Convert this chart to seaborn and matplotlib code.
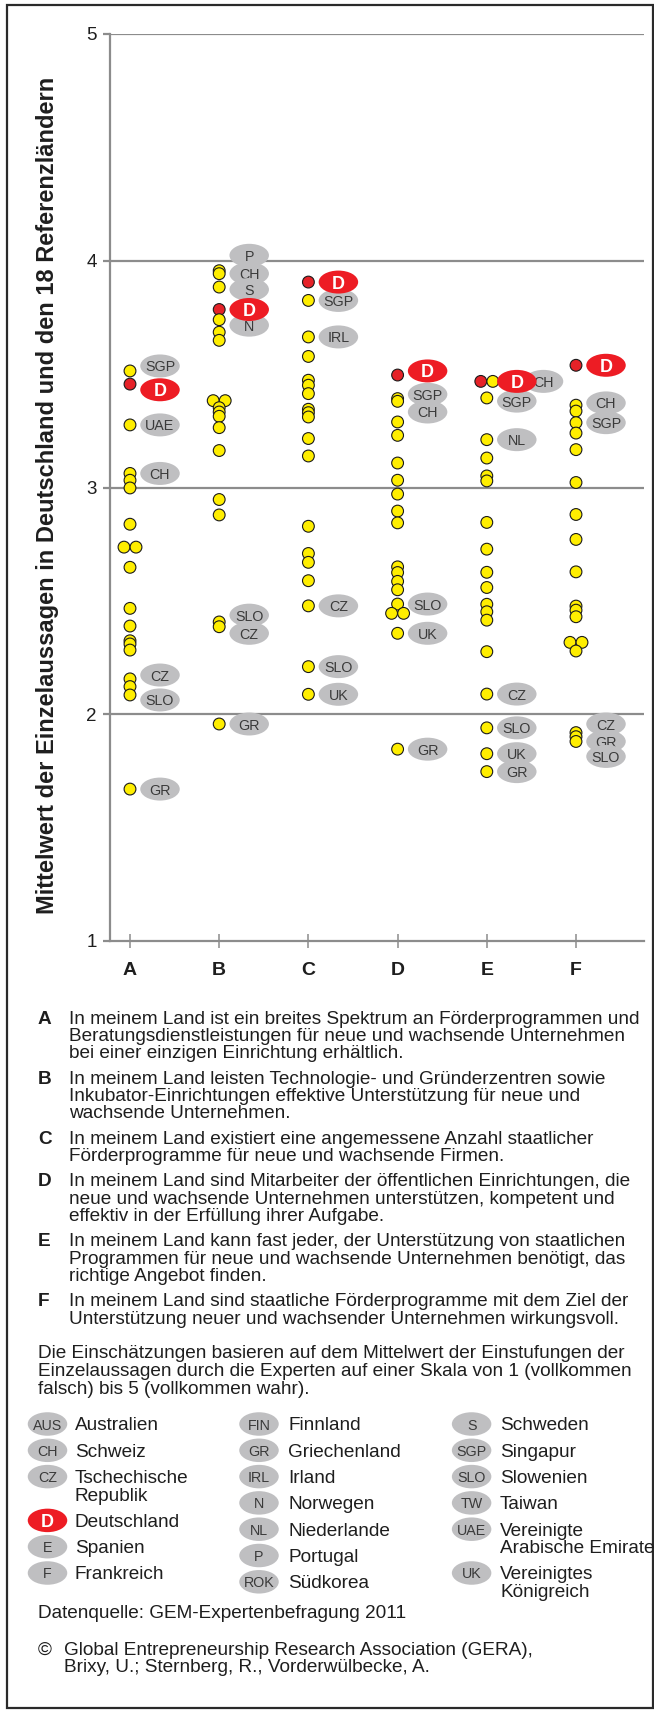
import matplotlib
matplotlib.use('Agg')
import matplotlib.pyplot as plt
from matplotlib.patches import Ellipse, Rectangle
from matplotlib import font_manager as fm
import numpy as np
import pandas as pd
import seaborn as sns

# ---------------- data ----------------
statements = ['A', 'B', 'C', 'D', 'E', 'F']

values_A = [3.514, 3.456, 3.276, 3.062, 3.032, 2.998, 2.838, 2.737, 2.737, 2.648,
            2.467, 2.389, 2.324, 2.310, 2.283, 2.156, 2.122, 2.085, 1.670]
codes_A = ['SGP', 'D', 'UAE', 'CH', '', '', '', '', '', '', '', '', '', '', '', 'CZ', '', 'SLO', 'GR']

values_B = [3.956, 3.943, 3.884, 3.785, 3.740, 3.685, 3.649, 3.383, 3.383, 3.352,
            3.333, 3.314, 3.264, 3.163, 2.947, 2.879, 2.407, 2.386, 1.957]
codes_B = ['P', 'CH', 'S', 'D', 'N', '', '', '', '', '', '', '', '', '', '', '', 'SLO', 'CZ', 'GR']

values_C = [3.906, 3.825, 3.664, 3.578, 3.473, 3.451, 3.414, 3.345, 3.330, 3.311,
            3.216, 3.139, 2.829, 2.709, 2.670, 2.589, 2.478, 2.210, 2.088]
codes_C = ['D', 'SGP', 'IRL', '', '', '', '', '', '', '', '', '', '', '', '', '', 'CZ', 'SLO', 'UK']

values_D = [3.496, 3.392, 3.380, 3.289, 3.230, 3.108, 3.032, 2.971, 2.896, 2.844,
            2.650, 2.625, 2.586, 2.549, 2.486, 2.445, 2.445, 2.357, 1.846]
codes_D = ['D', 'SGP', 'CH', '', '', '', '', '', '', '', '', '', '', '', 'SLO', '', '', 'UK', 'GR']

values_E = [3.468, 3.468, 3.395, 3.211, 3.130, 3.051, 3.029, 2.846, 2.728, 2.626,
            2.559, 2.485, 2.452, 2.415, 2.276, 2.089, 1.940, 1.826, 1.747]
codes_E = ['D', 'CH', 'SGP', 'NL', '', '', '', '', '', '', '', '', '', '', '', 'CZ', 'SLO', 'UK', 'GR']

values_F = [3.539, 3.363, 3.337, 3.286, 3.240, 3.167, 3.022, 2.881, 2.771, 2.628,
            2.477, 2.459, 2.430, 2.317, 2.317, 2.279, 1.919, 1.901, 1.880]
codes_F = ['D', 'CH', '', 'SGP', '', '', '', '', '', '', '', '', '', '', '', '', 'CZ', 'GR', 'SLO']

y_ticks = [1, 2, 3, 4, 5]

ylabel = "Mittelwert der Einzelaussagen in Deutschland und den 18 Referenzländern"

statement_text = {
    'A': ["In meinem Land ist ein breites Spektrum an Förderprogrammen und",
          "Beratungsdienstleistungen für neue und wachsende Unternehmen",
          "bei einer einzigen Einrichtung erhältlich."],
    'B': ["In meinem Land leisten Technologie- und Gründerzentren sowie",
          "Inkubator-Einrichtungen effektive Unterstützung für neue und",
          "wachsende Unternehmen."],
    'C': ["In meinem Land existiert eine angemessene Anzahl staatlicher",
          "Förderprogramme für neue und wachsende Firmen."],
    'D': ["In meinem Land sind Mitarbeiter der öffentlichen Einrichtungen, die",
          "neue und wachsende Unternehmen unterstützen, kompetent und",
          "effektiv in der Erfüllung ihrer Aufgabe."],
    'E': ["In meinem Land kann fast jeder, der Unterstützung von staatlichen",
          "Programmen für neue und wachsende Unternehmen benötigt, das",
          "richtige Angebot finden."],
    'F': ["In meinem Land sind staatliche Förderprogramme mit dem Ziel der",
          "Unterstützung neuer und wachsender Unternehmen wirkungsvoll."],
}
note_lines = ["Die Einschätzungen basieren auf dem Mittelwert der Einstufungen der",
              "Einzelaussagen durch die Experten auf einer Skala von 1 (vollkommen",
              "falsch) bis 5 (vollkommen wahr)."]
legend_col1 = [('AUS', 'Australien'), ('CH', 'Schweiz'), ('CZ', 'Tschechische\nRepublik'),
               ('D', 'Deutschland'), ('E', 'Spanien'), ('F', 'Frankreich')]
legend_col2 = [('FIN', 'Finnland'), ('GR', 'Griechenland'), ('IRL', 'Irland'), ('N', 'Norwegen'),
               ('NL', 'Niederlande'), ('P', 'Portugal'), ('ROK', 'Südkorea')]
legend_col3 = [('S', 'Schweden'), ('SGP', 'Singapur'), ('SLO', 'Slowenien'), ('TW', 'Taiwan'),
               ('UAE', 'Vereinigte\nArabische Emirate'), ('UK', 'Vereinigtes\nKönigreich')]
source_text = "Datenquelle: GEM-Expertenbefragung 2011"
copyright_lines = ["Global Entrepreneurship Research Association (GERA),",
                   "Brixy, U.; Sternberg, R., Vorderwülbecke, A."]

# ---------------- layout / style ----------------
W, H = 654, 1711
YELLOW = '#FFEE00'
RED = '#E52228'
BADGE_RED = '#ED1C24'
GRAY_BADGE = '#BFBFC1'
AXIS_GRAY = '#8C8C8C'
TEXT_DARK = '#1E1E1E'
BADGE_TEXT = '#3A3A3A'

sns.set_theme(style='white')
plt.rcParams['font.family'] = ['Liberation Sans', 'DejaVu Sans']
names = {f.name for f in fm.fontManager.ttflist}
NARROW = 'Liberation Sans Narrow' if 'Liberation Sans Narrow' in names else 'Liberation Sans'
badge_fs = 11.5 if NARROW != 'Liberation Sans' else 10.3

label_nudge = {('A', 'SGP'): 0.022, ('A', 'D'): -0.025, ('A', 'CZ'): 0.017, ('A', 'SLO'): -0.022,
               ('B', 'P'): 0.068, ('B', 'S'): -0.011, ('B', 'N'): -0.024, ('B', 'SLO'): 0.030,
               ('B', 'CZ'): -0.029, ('D', 'D'): 0.018, ('D', 'SGP'): 0.019, ('D', 'CH'): -0.047,
               ('E', 'SGP'): -0.014, ('F', 'CH'): 0.010, ('F', 'CZ'): 0.038, ('F', 'GR'): -0.021,
               ('F', 'SLO'): -0.066}
label_dx_px = {('E', 'CH'): 56.7}

# axes geometry in pixels
AX_L, AX_R, AX_T, AX_B = 110, 644, 34, 941
CAT0_PX, CAT_STEP_PX = 130, 89.2
x_left = (AX_L - CAT0_PX) / CAT_STEP_PX
x_right = (AX_R - CAT0_PX) / CAT_STEP_PX
px_per_y = (AX_B - AX_T) / 4.0

fig = plt.figure(figsize=(W / 100, H / 100), dpi=100)
ax = fig.add_axes([AX_L / W, 1 - AX_B / H, (AX_R - AX_L) / W, (AX_B - AX_T) / H])

# ---------------- build data frame ----------------
all_vals = [values_A, values_B, values_C, values_D, values_E, values_F]
all_codes = [codes_A, codes_B, codes_C, codes_D, codes_E, codes_F]
rows = []
for i, (st, vals, codes) in enumerate(zip(statements, all_vals, all_codes)):
    for v, c in zip(vals, codes):
        rows.append({'stmt': st, 'idx': i, 'value': v, 'code': c,
                     'kind': 'DE' if c == 'D' else 'other'})
df = pd.DataFrame(rows)
df['order'] = np.arange(len(df))
# horizontal dodge for identical values
dodge_units = 6.0 / CAT_STEP_PX
df['grp_n'] = df.groupby(['stmt', 'value'])['value'].transform('size')
df['grp_k'] = df.groupby(['stmt', 'value']).cumcount()
df['xpos'] = df['idx'] + (df['grp_k'] - (df['grp_n'] - 1) / 2.0) * 2 * dodge_units
df = df.sort_values(['value', 'order'], ascending=[False, True], kind='stable')

sns.scatterplot(data=df, x='xpos', y='value', hue='kind',
                palette={'DE': RED, 'other': YELLOW}, s=72,
                edgecolor='#1A1A1A', linewidth=0.8, legend=False, zorder=4, ax=ax)

# ---------------- country badges in chart ----------------
ew = 39.5 / CAT_STEP_PX
eh = 23.0 / px_per_y
lab = df[df['code'] != ''].copy()
lab['ly'] = [v + label_nudge.get((s, c), 0.0) for s, c, v in zip(lab['stmt'], lab['code'], lab['value'])]
lab['lx'] = [i + label_dx_px.get((s, c), 30.0) / CAT_STEP_PX for s, c, i in zip(lab['stmt'], lab['code'], lab['idx'])]
lab['isD'] = lab['code'] == 'D'
lab = lab.sort_values(['isD', 'ly'], ascending=[True, False])
z = 5
for _, r in lab.iterrows():
    if r['isD']:
        ax.add_patch(Ellipse((r['lx'], r['ly']), ew, eh, facecolor=BADGE_RED, edgecolor='none', zorder=z))
        ax.text(r['lx'], r['ly'], 'D', color='white', fontweight='bold', fontsize=13,
                ha='center', va='center_baseline', zorder=z + 0.5, family=[NARROW, 'Liberation Sans'])
    else:
        ax.add_patch(Ellipse((r['lx'], r['ly']), ew, eh, facecolor=GRAY_BADGE, edgecolor='none', zorder=z))
        ax.text(r['lx'], r['ly'], r['code'], color=BADGE_TEXT, fontsize=badge_fs,
                ha='center', va='center_baseline', zorder=z + 0.5, family=[NARROW, 'Liberation Sans'])
    z += 1

# ---------------- axes styling ----------------
ax.set_xlim(x_left, x_right)
ax.set_ylim(1, 5)
ax.set_xticks(range(len(statements)))
ax.set_xticklabels(statements, fontweight='bold', fontsize=14, color=TEXT_DARK)
ax.set_yticks(y_ticks)
ax.set_yticklabels([str(t) for t in y_ticks], fontsize=13.5, color=TEXT_DARK)
ax.set_xlabel('')
ax.set_ylabel('')
for side in ['top', 'right']:
    ax.spines[side].set_visible(False)
for side in ['left', 'bottom']:
    ax.spines[side].set_color(AXIS_GRAY)
    ax.spines[side].set_linewidth(1.6)
ax.grid(False)
for t in y_ticks[1:]:
    ax.axhline(t, color=AXIS_GRAY, lw=1.6, zorder=1)
ax.tick_params(axis='y', which='major', direction='out', length=5, width=1.6,
               color=AXIS_GRAY, pad=4.5, left=True)
ax.tick_params(axis='x', which='major', direction='inout', length=10, width=1.1,
               color=AXIS_GRAY, pad=10, bottom=True)
ax.set_facecolor('none')

# ---------------- overlay for texts ----------------
ov = fig.add_axes([0, 0, 1, 1], zorder=-1)
ov.set_xlim(0, W)
ov.set_ylim(H, 0)
ov.axis('off')

renderer = fig.canvas.get_renderer()


def fit_size(text, target_px, weight='normal', base=10.0):
    t = fig.text(0, 0, text, fontsize=base, fontweight=weight)
    w = t.get_window_extent(renderer=renderer).width
    t.remove()
    return base * target_px / w


body_fs = fit_size(statement_text['A'][0], 576)
ylab_fs = fit_size(ylabel, 838, weight='bold')

fig.text(48 / W, 1 - 495 / H, ylabel, rotation=90, ha='center', va='center',
         fontweight='bold', fontsize=ylab_fs, color=TEXT_DARK)

LINE = 17.5
GAP = 7.5
y = 1017
for st in statements:
    ov.text(38, y, st, fontweight='bold', fontsize=body_fs, ha='left', va='center_baseline', color=TEXT_DARK)
    for ln in statement_text[st]:
        ov.text(69, y, ln, fontsize=body_fs, ha='left', va='center_baseline', color=TEXT_DARK)
        y += LINE
    y += GAP

y = 1352
for ln in note_lines:
    ov.text(38, y, ln, fontsize=body_fs, ha='left', va='center_baseline', color=TEXT_DARK)
    y += LINE

ROW = 26.3
for col, bx, tx in [(legend_col1, 47.5, 75), (legend_col2, 259, 288), (legend_col3, 471.6, 500)]:
    y = 1424
    for code, name in col:
        fc = BADGE_RED if code == 'D' else GRAY_BADGE
        ov.add_patch(Ellipse((bx, y), 39.5, 23.5, facecolor=fc, edgecolor='none'))
        if code == 'D':
            ov.text(bx, y, code, color='white', fontweight='bold', fontsize=13,
                    ha='center', va='center_baseline', family=[NARROW, 'Liberation Sans'])
        else:
            ov.text(bx, y, code, color=BADGE_TEXT, fontsize=badge_fs,
                    ha='center', va='center_baseline', family=[NARROW, 'Liberation Sans'])
        parts = name.split('\n')
        for k, p in enumerate(parts):
            ov.text(tx, y + k * LINE, p, fontsize=body_fs, ha='left', va='center_baseline', color=TEXT_DARK)
        y += ROW + LINE * (len(parts) - 1)

ov.text(38, 1611.5, source_text, fontsize=body_fs, ha='left', va='center_baseline', color=TEXT_DARK)
ov.text(38, 1648.5, '©', fontsize=body_fs, ha='left', va='center_baseline', color=TEXT_DARK)
for k, ln in enumerate(copyright_lines):
    ov.text(64.5, 1648.5 + k * LINE, ln, fontsize=body_fs, ha='left', va='center_baseline', color=TEXT_DARK)

# frame around the whole figure
ov.add_patch(Rectangle((6.5, 5), 646.5, 1703, facecolor='none', edgecolor='#2A2A2A', lw=1.6))

fig.savefig('out.png', dpi=100, facecolor='white')
